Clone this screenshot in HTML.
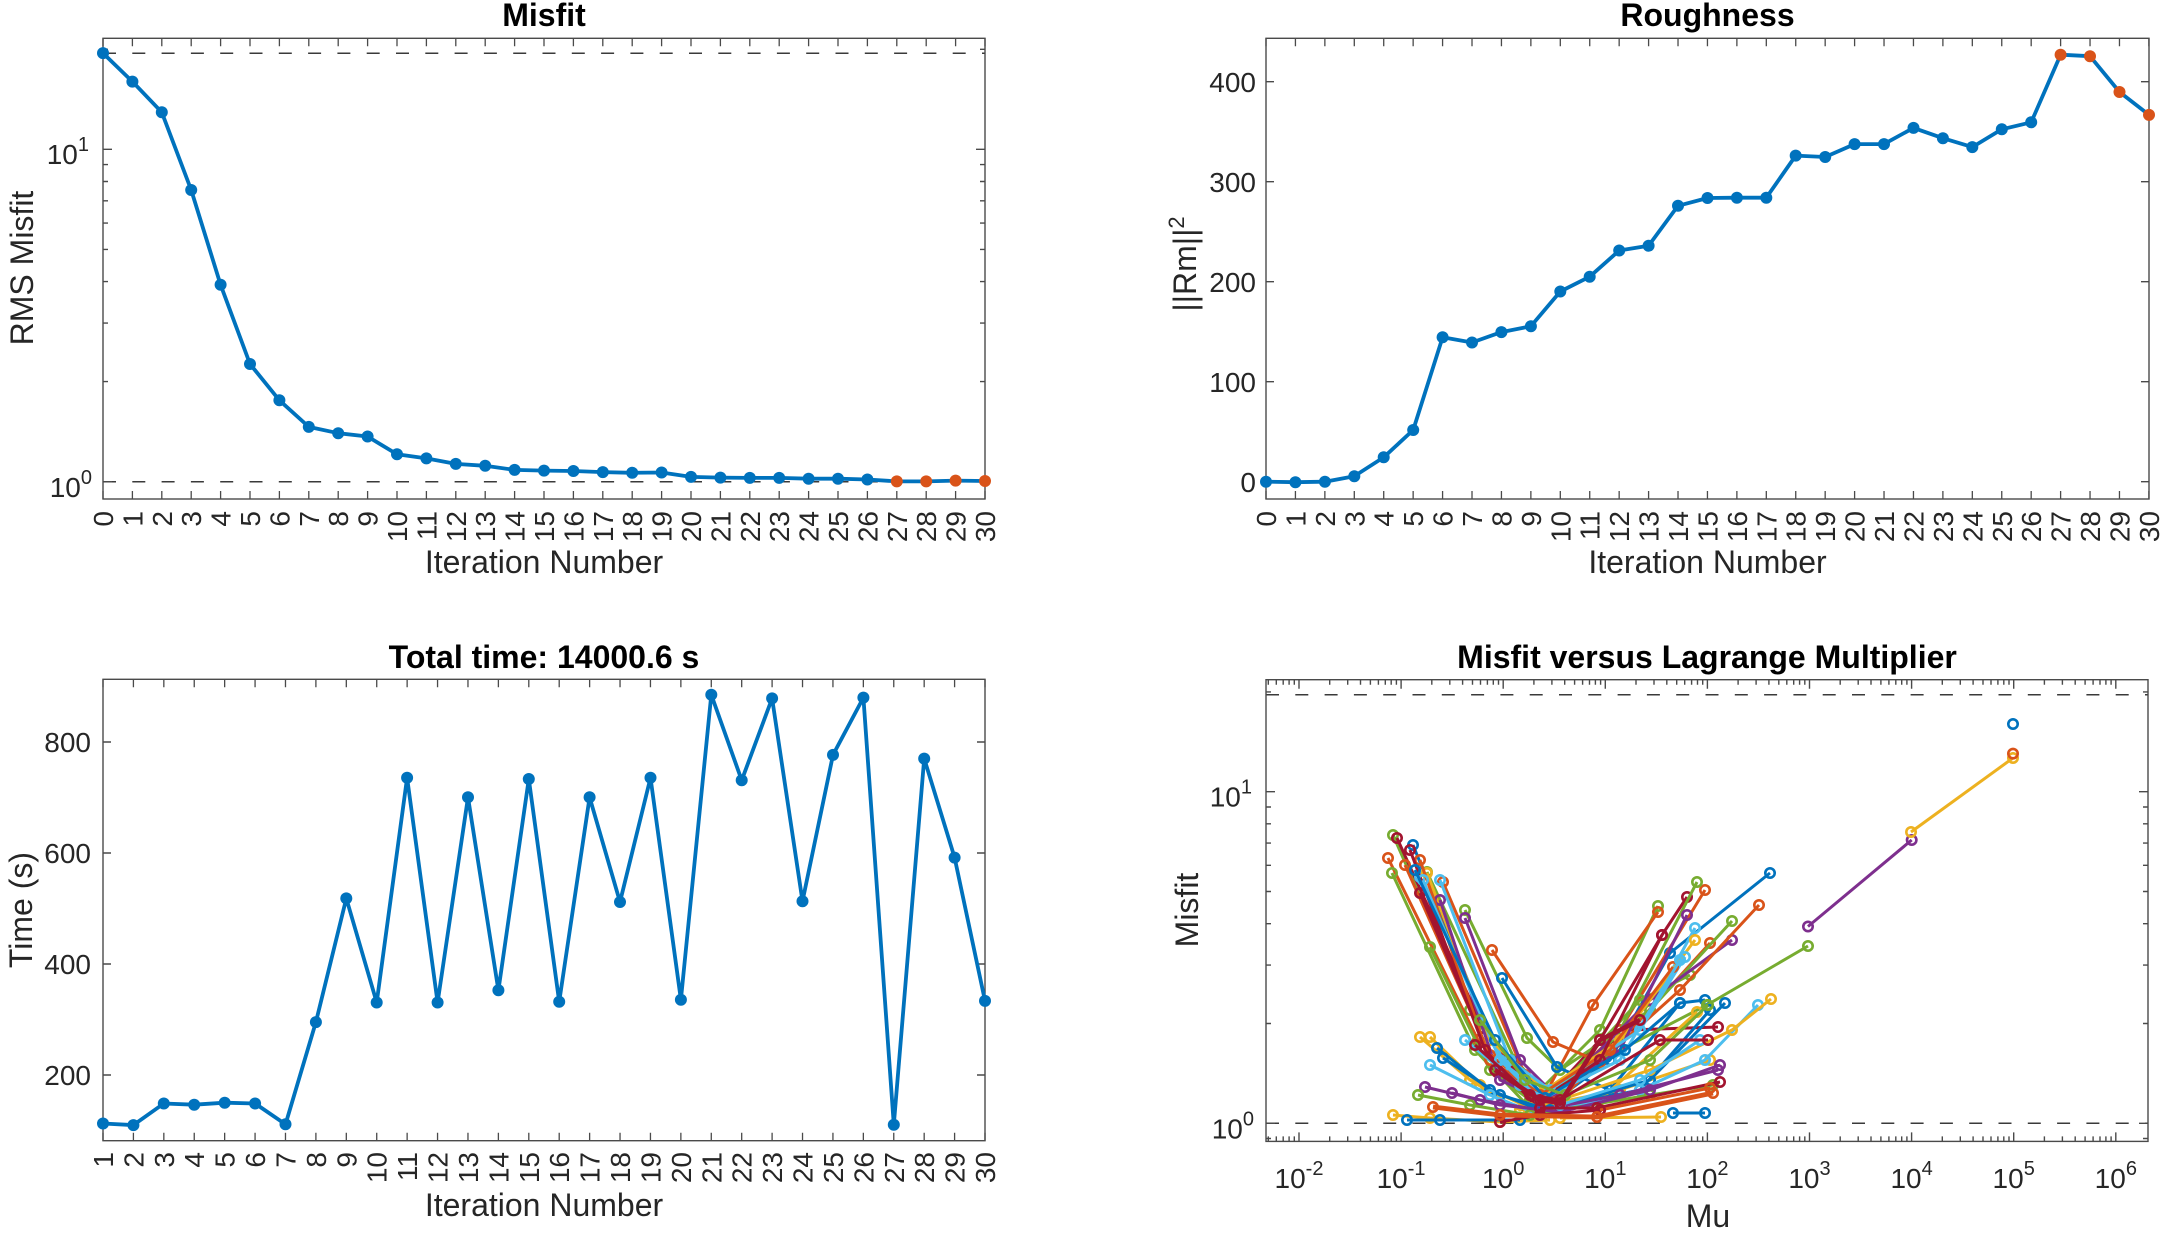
<!DOCTYPE html>
<html><head><meta charset="utf-8"><style>
html,body{margin:0;padding:0;background:#fff;}
svg{display:block;}
.tk{font:28px "Liberation Sans",sans-serif;fill:#262626;}
.al{font:32px "Liberation Sans",sans-serif;fill:#262626;}
.ti{font:bold 32px "Liberation Sans",sans-serif;fill:#000;}
.ax{fill:none;stroke:#4a4a4a;stroke-width:1.4;}
.dash{stroke:#3a3a3a;stroke-width:1.5;stroke-dasharray:13 16.3;fill:none;}
.ser{fill:none;stroke:#0072BD;stroke-width:3.8;stroke-linejoin:round;}
.sp{fill:none;stroke-width:3;stroke-linejoin:round;}
.B{stroke:#0072BD;marker-start:url(#mB);marker-mid:url(#mB);marker-end:url(#mB);}
.O{stroke:#D95319;marker-start:url(#mO);marker-mid:url(#mO);marker-end:url(#mO);}
.Y{stroke:#EDB120;marker-start:url(#mY);marker-mid:url(#mY);marker-end:url(#mY);}
.P{stroke:#7E2F8E;marker-start:url(#mP);marker-mid:url(#mP);marker-end:url(#mP);}
.G{stroke:#77AC30;marker-start:url(#mG);marker-mid:url(#mG);marker-end:url(#mG);}
.C{stroke:#4DBEEE;marker-start:url(#mC);marker-mid:url(#mC);marker-end:url(#mC);}
.R{stroke:#A2142F;marker-start:url(#mR);marker-mid:url(#mR);marker-end:url(#mR);}
</style></head><body>
<svg width="2167" height="1236" viewBox="0 0 2167 1236" xmlns="http://www.w3.org/2000/svg">
<defs>
<marker id="fb" markerUnits="userSpaceOnUse" markerWidth="14" markerHeight="14" refX="7" refY="7" overflow="visible"><circle cx="7" cy="7" r="6" fill="#0072BD"/></marker>
<marker id="mB" markerUnits="userSpaceOnUse" markerWidth="12" markerHeight="12" refX="6" refY="6" overflow="visible"><circle cx="6" cy="6" r="4.7" fill="none" stroke="#0072BD" stroke-width="2.6"/></marker>
<marker id="mO" markerUnits="userSpaceOnUse" markerWidth="12" markerHeight="12" refX="6" refY="6" overflow="visible"><circle cx="6" cy="6" r="4.7" fill="none" stroke="#D95319" stroke-width="2.6"/></marker>
<marker id="mY" markerUnits="userSpaceOnUse" markerWidth="12" markerHeight="12" refX="6" refY="6" overflow="visible"><circle cx="6" cy="6" r="4.7" fill="none" stroke="#EDB120" stroke-width="2.6"/></marker>
<marker id="mP" markerUnits="userSpaceOnUse" markerWidth="12" markerHeight="12" refX="6" refY="6" overflow="visible"><circle cx="6" cy="6" r="4.7" fill="none" stroke="#7E2F8E" stroke-width="2.6"/></marker>
<marker id="mG" markerUnits="userSpaceOnUse" markerWidth="12" markerHeight="12" refX="6" refY="6" overflow="visible"><circle cx="6" cy="6" r="4.7" fill="none" stroke="#77AC30" stroke-width="2.6"/></marker>
<marker id="mC" markerUnits="userSpaceOnUse" markerWidth="12" markerHeight="12" refX="6" refY="6" overflow="visible"><circle cx="6" cy="6" r="4.7" fill="none" stroke="#4DBEEE" stroke-width="2.6"/></marker>
<marker id="mR" markerUnits="userSpaceOnUse" markerWidth="12" markerHeight="12" refX="6" refY="6" overflow="visible"><circle cx="6" cy="6" r="4.7" fill="none" stroke="#A2142F" stroke-width="2.6"/></marker>
</defs>
<rect width="2167" height="1236" fill="#fff"/>

<!-- ============ TOP-LEFT: Misfit ============ -->
<text class="ti" x="544" y="26" text-anchor="middle">Misfit</text>
<line class="dash" x1="103" y1="53.3" x2="985" y2="53.3"/>
<line class="dash" x1="103" y1="481.7" x2="985" y2="481.7"/>
<rect class="ax" x="103" y="38.3" width="882" height="460.7"/>
<line x1="102.35" y1="495" x2="986" y2="495" stroke="#4a4a4a" stroke-width="8" stroke-dasharray="1.3 28.1"/>
<line x1="102.35" y1="42.3" x2="986" y2="42.3" stroke="#4a4a4a" stroke-width="8" stroke-dasharray="1.3 28.1"/>
<path class="ax" d="M103 481.7h9M103 149.3h9M985 481.7h-9M985 149.3h-9
M103 381.6h5M103 323.1h5M103 281.6h5M103 249.4h5M103 223.1h5M103 200.8h5M103 181.5h5M103 164.6h5M103 49.3h5
M985 381.6h-5M985 323.1h-5M985 281.6h-5M985 249.4h-5M985 223.1h-5M985 200.8h-5M985 181.5h-5M985 164.6h-5M985 49.3h-5"/>
<text class="tk" x="89" y="164" text-anchor="end">10<tspan dy="-13" font-size="20">1</tspan></text>
<text class="tk" x="92" y="497" text-anchor="end">10<tspan dy="-13" font-size="20">0</tspan></text>
<text class="al" transform="translate(33,268) rotate(-90)" text-anchor="middle">RMS Misfit</text>
<text class="al" x="544" y="573" text-anchor="middle">Iteration Number</text>
<g class="tk" text-anchor="end">
<text transform="translate(113,511) rotate(-90)">0</text>
<text transform="translate(142.4,511) rotate(-90)">1</text>
<text transform="translate(171.8,511) rotate(-90)">2</text>
<text transform="translate(201.2,511) rotate(-90)">3</text>
<text transform="translate(230.6,511) rotate(-90)">4</text>
<text transform="translate(260,511) rotate(-90)">5</text>
<text transform="translate(289.4,511) rotate(-90)">6</text>
<text transform="translate(318.8,511) rotate(-90)">7</text>
<text transform="translate(348.2,511) rotate(-90)">8</text>
<text transform="translate(377.6,511) rotate(-90)">9</text>
<text transform="translate(407,511) rotate(-90)">10</text>
<text transform="translate(436.4,511) rotate(-90)">11</text>
<text transform="translate(465.8,511) rotate(-90)">12</text>
<text transform="translate(495.2,511) rotate(-90)">13</text>
<text transform="translate(524.6,511) rotate(-90)">14</text>
<text transform="translate(554,511) rotate(-90)">15</text>
<text transform="translate(583.4,511) rotate(-90)">16</text>
<text transform="translate(612.8,511) rotate(-90)">17</text>
<text transform="translate(642.2,511) rotate(-90)">18</text>
<text transform="translate(671.6,511) rotate(-90)">19</text>
<text transform="translate(701,511) rotate(-90)">20</text>
<text transform="translate(730.4,511) rotate(-90)">21</text>
<text transform="translate(759.8,511) rotate(-90)">22</text>
<text transform="translate(789.2,511) rotate(-90)">23</text>
<text transform="translate(818.6,511) rotate(-90)">24</text>
<text transform="translate(848,511) rotate(-90)">25</text>
<text transform="translate(877.4,511) rotate(-90)">26</text>
<text transform="translate(906.8,511) rotate(-90)">27</text>
<text transform="translate(936.2,511) rotate(-90)">28</text>
<text transform="translate(965.6,511) rotate(-90)">29</text>
<text transform="translate(995,511) rotate(-90)">30</text>
</g>
<polyline class="ser" points="867.4,479.5 896.8,481.4 926.2,481.4 955.6,480.6 985,481"/>
<polyline class="ser" marker-start="url(#fb)" marker-mid="url(#fb)" marker-end="url(#fb)" points="103,53.1 132.4,81.6 161.8,112.3 191.2,190 220.6,284.8 250,364 279.4,400.3 308.8,426.9 338.2,433.2 367.6,436.5 397,454.3 426.4,458.4 455.8,463.9 485.2,465.8 514.6,469.9 544,470.6 573.4,471 602.8,472.1 632.2,472.8 661.6,472.5 691,476.9 720.4,477.6 749.8,477.9 779.2,477.9 808.6,478.7 838,478.7 867.4,479.5"/>
<g fill="#D95319"><circle cx="896.8" cy="481.4" r="6"/><circle cx="926.2" cy="481.4" r="6"/><circle cx="955.6" cy="480.6" r="6"/><circle cx="985" cy="481" r="6"/></g>

<!-- ============ TOP-RIGHT: Roughness ============ -->
<text class="ti" x="1707.5" y="26" text-anchor="middle">Roughness</text>
<rect class="ax" x="1266" y="38.3" width="883" height="460.7"/>
<line x1="1265.35" y1="495" x2="2150" y2="495" stroke="#4a4a4a" stroke-width="8" stroke-dasharray="1.3 28.13"/>
<line x1="1265.35" y1="42.3" x2="2150" y2="42.3" stroke="#4a4a4a" stroke-width="8" stroke-dasharray="1.3 28.13"/>
<path class="ax" d="M1266 481.7h8M1266 381.7h8M1266 281.7h8M1266 181.7h8M1266 81.7h8M2149 481.7h-8M2149 381.7h-8M2149 281.7h-8M2149 181.7h-8M2149 81.7h-8"/>
<g class="tk" text-anchor="end">
<text x="1256" y="492.2">0</text>
<text x="1256" y="392.2">100</text>
<text x="1256" y="292.2">200</text>
<text x="1256" y="192.2">300</text>
<text x="1256" y="92.2">400</text>
</g>
<text class="al" transform="translate(1196,264) rotate(-90)" text-anchor="middle">||Rm||<tspan dy="-12" font-size="22">2</tspan></text>
<text class="al" x="1707.5" y="573" text-anchor="middle">Iteration Number</text>
<g class="tk" text-anchor="end">
<text transform="translate(1276,511) rotate(-90)">0</text>
<text transform="translate(1305.4,511) rotate(-90)">1</text>
<text transform="translate(1334.9,511) rotate(-90)">2</text>
<text transform="translate(1364.3,511) rotate(-90)">3</text>
<text transform="translate(1393.7,511) rotate(-90)">4</text>
<text transform="translate(1423.2,511) rotate(-90)">5</text>
<text transform="translate(1452.6,511) rotate(-90)">6</text>
<text transform="translate(1482,511) rotate(-90)">7</text>
<text transform="translate(1511.4,511) rotate(-90)">8</text>
<text transform="translate(1540.9,511) rotate(-90)">9</text>
<text transform="translate(1570.3,511) rotate(-90)">10</text>
<text transform="translate(1599.7,511) rotate(-90)">11</text>
<text transform="translate(1629.2,511) rotate(-90)">12</text>
<text transform="translate(1658.6,511) rotate(-90)">13</text>
<text transform="translate(1688,511) rotate(-90)">14</text>
<text transform="translate(1717.5,511) rotate(-90)">15</text>
<text transform="translate(1746.9,511) rotate(-90)">16</text>
<text transform="translate(1776.3,511) rotate(-90)">17</text>
<text transform="translate(1805.7,511) rotate(-90)">18</text>
<text transform="translate(1835.2,511) rotate(-90)">19</text>
<text transform="translate(1864.6,511) rotate(-90)">20</text>
<text transform="translate(1894,511) rotate(-90)">21</text>
<text transform="translate(1923.5,511) rotate(-90)">22</text>
<text transform="translate(1952.9,511) rotate(-90)">23</text>
<text transform="translate(1982.3,511) rotate(-90)">24</text>
<text transform="translate(2011.8,511) rotate(-90)">25</text>
<text transform="translate(2041.2,511) rotate(-90)">26</text>
<text transform="translate(2070.6,511) rotate(-90)">27</text>
<text transform="translate(2100,511) rotate(-90)">28</text>
<text transform="translate(2129.5,511) rotate(-90)">29</text>
<text transform="translate(2159,511) rotate(-90)">30</text>
</g>
<polyline class="ser" points="2031.2,122.3 2060.6,54.7 2090,56.2 2119.5,92 2149,114.9"/>
<polyline class="ser" marker-start="url(#fb)" marker-mid="url(#fb)" marker-end="url(#fb)" points="1266,481.7 1295.4,482.2 1324.9,481.7 1354.3,476.2 1383.7,457.3 1413.2,430 1442.6,337.3 1472,342.5 1501.4,332.1 1530.9,326.2 1560.3,291.5 1589.7,276.7 1619.2,250.5 1648.6,245.7 1678,205.8 1707.5,198 1736.9,197.7 1766.3,197.7 1795.7,155.6 1825.2,157 1854.6,144.1 1884,144.1 1913.5,127.9 1942.9,138.2 1972.3,147.1 2001.8,129.3 2031.2,122.3"/>
<g fill="#D95319"><circle cx="2060.6" cy="54.7" r="6"/><circle cx="2090" cy="56.2" r="6"/><circle cx="2119.5" cy="92" r="6"/><circle cx="2149" cy="114.9" r="6"/></g>

<!-- ============ BOTTOM-LEFT: Time ============ -->
<text class="ti" x="544" y="668" text-anchor="middle">Total time: 14000.6 s</text>
<rect class="ax" x="103" y="679.3" width="882" height="461.4"/>
<line x1="102.35" y1="1136.7" x2="986" y2="1136.7" stroke="#4a4a4a" stroke-width="8" stroke-dasharray="1.3 29.114"/>
<line x1="102.35" y1="683.3" x2="986" y2="683.3" stroke="#4a4a4a" stroke-width="8" stroke-dasharray="1.3 29.114"/>
<path class="ax" d="M103 1075h8M103 964h8M103 853h8M103 742h8M985 1075h-8M985 964h-8M985 853h-8M985 742h-8"/>
<g class="tk" text-anchor="end">
<text x="91" y="1085">200</text>
<text x="91" y="974">400</text>
<text x="91" y="863">600</text>
<text x="91" y="752">800</text>
</g>
<text class="al" transform="translate(32,910) rotate(-90)" text-anchor="middle">Time (s)</text>
<text class="al" x="544" y="1216" text-anchor="middle">Iteration Number</text>
<g class="tk" text-anchor="end">
<text transform="translate(113,1152) rotate(-90)">1</text>
<text transform="translate(143.4,1152) rotate(-90)">2</text>
<text transform="translate(173.8,1152) rotate(-90)">3</text>
<text transform="translate(204.2,1152) rotate(-90)">4</text>
<text transform="translate(234.7,1152) rotate(-90)">5</text>
<text transform="translate(265.1,1152) rotate(-90)">6</text>
<text transform="translate(295.5,1152) rotate(-90)">7</text>
<text transform="translate(325.9,1152) rotate(-90)">8</text>
<text transform="translate(356.3,1152) rotate(-90)">9</text>
<text transform="translate(386.7,1152) rotate(-90)">10</text>
<text transform="translate(417.1,1152) rotate(-90)">11</text>
<text transform="translate(447.6,1152) rotate(-90)">12</text>
<text transform="translate(478,1152) rotate(-90)">13</text>
<text transform="translate(508.4,1152) rotate(-90)">14</text>
<text transform="translate(538.8,1152) rotate(-90)">15</text>
<text transform="translate(569.2,1152) rotate(-90)">16</text>
<text transform="translate(599.6,1152) rotate(-90)">17</text>
<text transform="translate(630,1152) rotate(-90)">18</text>
<text transform="translate(660.5,1152) rotate(-90)">19</text>
<text transform="translate(690.9,1152) rotate(-90)">20</text>
<text transform="translate(721.3,1152) rotate(-90)">21</text>
<text transform="translate(751.7,1152) rotate(-90)">22</text>
<text transform="translate(782.1,1152) rotate(-90)">23</text>
<text transform="translate(812.5,1152) rotate(-90)">24</text>
<text transform="translate(843,1152) rotate(-90)">25</text>
<text transform="translate(873.4,1152) rotate(-90)">26</text>
<text transform="translate(903.8,1152) rotate(-90)">27</text>
<text transform="translate(934.2,1152) rotate(-90)">28</text>
<text transform="translate(964.6,1152) rotate(-90)">29</text>
<text transform="translate(995,1152) rotate(-90)">30</text>
</g>
<polyline class="ser" marker-start="url(#fb)" marker-mid="url(#fb)" marker-end="url(#fb)" points="103,1123.5 133.4,1125.1 163.8,1103.5 194.2,1104.7 224.7,1102.7 255.1,1103.5 285.5,1124.3 315.9,1022.1 346.3,898.4 376.7,1002.5 407.1,777.8 437.6,1002.5 468,797.3 498.4,990.3 528.8,779 559.2,1001.7 589.6,797.3 620,902 650.5,777.8 680.9,999.7 711.3,694.7 741.7,780.3 772.1,698.4 802.5,901.2 833,754.9 863.4,697.6 893.8,1124.7 924.2,758.6 954.6,857.6 985,1000.9"/>

<!-- ============ BOTTOM-RIGHT: Misfit vs Mu ============ -->
<text class="ti" x="1707" y="668" text-anchor="middle">Misfit versus Lagrange Multiplier</text>
<line class="dash" x1="1266" y1="694.7" x2="2148" y2="694.7"/>
<line class="dash" x1="1266" y1="1123.3" x2="2148" y2="1123.3"/>
<rect class="ax" x="1266" y="679.7" width="882" height="461.7"/>
<path class="ax" d="M1299 1141.4v-9M1401.1 1141.4v-9M1503.2 1141.4v-9M1605.3 1141.4v-9M1707.4 1141.4v-9M1809.5 1141.4v-9M1911.6 1141.4v-9M2013.7 1141.4v-9M2115.8 1141.4v-9
M1299 679.7v9M1401.1 679.7v9M1503.2 679.7v9M1605.3 679.7v9M1707.4 679.7v9M1809.5 679.7v9M1911.6 679.7v9M2013.7 679.7v9M2115.8 679.7v9
M1268.3 1141.4v-5M1276.3 1141.4v-5M1283.2 1141.4v-5M1289.1 1141.4v-5M1294.3 1141.4v-5
M1329.7 1141.4v-5M1347.7 1141.4v-5M1360.5 1141.4v-5M1370.4 1141.4v-5M1378.4 1141.4v-5M1385.3 1141.4v-5M1391.2 1141.4v-5M1396.4 1141.4v-5
M1431.8 1141.4v-5M1449.8 1141.4v-5M1462.6 1141.4v-5M1472.5 1141.4v-5M1480.5 1141.4v-5M1487.4 1141.4v-5M1493.3 1141.4v-5M1498.5 1141.4v-5
M1533.9 1141.4v-5M1551.9 1141.4v-5M1564.7 1141.4v-5M1574.6 1141.4v-5M1582.6 1141.4v-5M1589.5 1141.4v-5M1595.4 1141.4v-5M1600.6 1141.4v-5
M1636 1141.4v-5M1654 1141.4v-5M1666.8 1141.4v-5M1676.7 1141.4v-5M1684.7 1141.4v-5M1691.6 1141.4v-5M1697.5 1141.4v-5M1702.7 1141.4v-5
M1738.1 1141.4v-5M1756.1 1141.4v-5M1768.9 1141.4v-5M1778.8 1141.4v-5M1786.8 1141.4v-5M1793.7 1141.4v-5M1799.6 1141.4v-5M1804.8 1141.4v-5
M1840.2 1141.4v-5M1858.2 1141.4v-5M1871 1141.4v-5M1880.9 1141.4v-5M1888.9 1141.4v-5M1895.8 1141.4v-5M1901.7 1141.4v-5M1906.9 1141.4v-5
M1942.3 1141.4v-5M1960.3 1141.4v-5M1973.1 1141.4v-5M1983 1141.4v-5M1991 1141.4v-5M1997.9 1141.4v-5M2003.8 1141.4v-5M2009 1141.4v-5
M2044.4 1141.4v-5M2062.4 1141.4v-5M2075.2 1141.4v-5M2085.1 1141.4v-5M2093.1 1141.4v-5M2100 1141.4v-5M2105.9 1141.4v-5M2111.1 1141.4v-5
M1268.3 679.7v5M1276.3 679.7v5M1283.2 679.7v5M1289.1 679.7v5M1294.3 679.7v5
M1329.7 679.7v5M1347.7 679.7v5M1360.5 679.7v5M1370.4 679.7v5M1378.4 679.7v5M1385.3 679.7v5M1391.2 679.7v5M1396.4 679.7v5
M1431.8 679.7v5M1449.8 679.7v5M1462.6 679.7v5M1472.5 679.7v5M1480.5 679.7v5M1487.4 679.7v5M1493.3 679.7v5M1498.5 679.7v5
M1533.9 679.7v5M1551.9 679.7v5M1564.7 679.7v5M1574.6 679.7v5M1582.6 679.7v5M1589.5 679.7v5M1595.4 679.7v5M1600.6 679.7v5
M1636 679.7v5M1654 679.7v5M1666.8 679.7v5M1676.7 679.7v5M1684.7 679.7v5M1691.6 679.7v5M1697.5 679.7v5M1702.7 679.7v5
M1738.1 679.7v5M1756.1 679.7v5M1768.9 679.7v5M1778.8 679.7v5M1786.8 679.7v5M1793.7 679.7v5M1799.6 679.7v5M1804.8 679.7v5
M1840.2 679.7v5M1858.2 679.7v5M1871 679.7v5M1880.9 679.7v5M1888.9 679.7v5M1895.8 679.7v5M1901.7 679.7v5M1906.9 679.7v5
M1942.3 679.7v5M1960.3 679.7v5M1973.1 679.7v5M1983 679.7v5M1991 679.7v5M1997.9 679.7v5M2003.8 679.7v5M2009 679.7v5
M2044.4 679.7v5M2062.4 679.7v5M2075.2 679.7v5M2085.1 679.7v5M2093.1 679.7v5M2100 679.7v5M2105.9 679.7v5M2111.1 679.7v5
M1266 1123.3h9M1266 791.7h9M2148 1123.3h-9M2148 791.7h-9
M1266 1138.5h5M1266 1023.5h5M1266 965.1h5M1266 923.7h5M1266 891.5h5M1266 865.3h5M1266 843.1h5M1266 823.8h5M1266 807h5M1266 691.9h5
M2148 1138.5h-5M2148 1023.5h-5M2148 965.1h-5M2148 923.7h-5M2148 891.5h-5M2148 865.3h-5M2148 843.1h-5M2148 823.8h-5M2148 807h-5M2148 691.9h-5"/>
<text class="tk" x="1252" y="806.6" text-anchor="end">10<tspan dy="-13" font-size="20">1</tspan></text>
<text class="tk" x="1254" y="1138.5" text-anchor="end">10<tspan dy="-13" font-size="20">0</tspan></text>
<g class="tk" text-anchor="middle">
<text x="1299" y="1188">10<tspan dy="-13" font-size="20">-2</tspan></text>
<text x="1401.1" y="1188">10<tspan dy="-13" font-size="20">-1</tspan></text>
<text x="1503.2" y="1188">10<tspan dy="-13" font-size="20">0</tspan></text>
<text x="1605.3" y="1188">10<tspan dy="-13" font-size="20">1</tspan></text>
<text x="1707.4" y="1188">10<tspan dy="-13" font-size="20">2</tspan></text>
<text x="1809.5" y="1188">10<tspan dy="-13" font-size="20">3</tspan></text>
<text x="1911.6" y="1188">10<tspan dy="-13" font-size="20">4</tspan></text>
<text x="2013.7" y="1188">10<tspan dy="-13" font-size="20">5</tspan></text>
<text x="2115.8" y="1188">10<tspan dy="-13" font-size="20">6</tspan></text>
</g>
<text class="al" transform="translate(1198,910) rotate(-90)" text-anchor="middle">Misfit</text>
<text class="al" x="1708" y="1227" text-anchor="middle">Mu</text>

<g class="sp">
<polyline class="G" points="1393,835 1470,1010 1530,1100 1600,1030 1658,906"/>
<polyline class="R" points="1397,838 1483,1028 1540,1105 1600,1040 1662,935 1687,897"/>
<polyline class="B" points="1413,845 1500,1060 1545,1108 1610,1060 1670,953 1770,873"/>
<polyline class="O" points="1388,858 1478,1040 1537,1110 1593,1005 1658,912"/>
<polyline class="O" points="1405,865 1490,1055 1548,1100 1620,1030 1705,890"/>
<polyline class="G" points="1392,873 1475,1050 1527,1105 1615,1040 1697,882"/>
<polyline class="G" points="1427,872 1515,1060 1550,1097 1640,1000 1690,975"/>
<polyline class="C" points="1420,877 1505,1065 1553,1100 1650,1010 1695,928"/>
<polyline class="R" points="1420,893 1497,1072 1540,1103 1630,1030 1718,1027"/>
<polyline class="O" points="1443,882 1525,1075 1560,1100 1640,1020 1710,943"/>
<polyline class="G" points="1465,910 1527,1038 1560,1070 1650,1010 1732,921"/>
<polyline class="P" points="1465,918 1520,1060 1555,1095 1650,1000 1732,940"/>
<polyline class="O" points="1492,950 1553,1042 1600,1062 1680,990 1759,905"/>
<polyline class="B" points="1502,978 1557,1067 1610,1090 1680,1003 1705,1000"/>
<polyline class="G" points="1430,947 1490,1070 1530,1100 1620,1050 1707,1005 1808,946"/>
<polyline class="Y" points="1427,873 1490,1040 1545,1090 1620,1040 1695,940"/>
<polyline class="P" points="1440,900 1500,1080 1545,1100 1620,1050 1687,915"/>
<polyline class="C" points="1440,880 1510,1060 1550,1090 1640,1030 1685,957"/>
<polyline class="O" points="1420,860 1490,1060 1540,1095 1610,1050 1673,967"/>
<polyline class="R" points="1410,850 1485,1050 1535,1105 1600,1060 1662,935"/>
<polyline class="C" points="1423,880 1500,1060 1540,1100 1620,1060 1680,960"/>
<polyline class="B" points="1415,870 1495,1040 1545,1098 1625,1050 1680,1003"/>
<polyline class="Y" points="1393,1115 1430,1118 1500,1122 1550,1120"/>
<polyline class="B" points="1407,1120 1440,1120 1520,1120"/>
<polyline class="Y" points="1420,1037 1470,1080 1520,1110 1600,1100 1697,1012"/>
<polyline class="Y" points="1430,1037 1480,1085 1530,1108 1620,1090 1710,1060"/>
<polyline class="B" points="1437,1048 1490,1090 1540,1110 1640,1090 1710,1010"/>
<polyline class="B" points="1443,1058 1500,1095 1550,1110 1650,1080 1725,1003"/>
<polyline class="C" points="1430,1065 1490,1095 1540,1115 1640,1090 1705,1060 1758,1005"/>
<polyline class="Y" points="1560,1100 1650,1070 1732,1030 1771,999"/>
<polyline class="P" points="1425,1087 1480,1100 1540,1110 1620,1095 1718,1070"/>
<polyline class="G" points="1418,1095 1470,1105 1530,1115 1650,1095 1713,1085"/>
<polyline class="P" points="1452,1093 1500,1105 1560,1112 1650,1090 1720,1065"/>
<polyline class="C" points="1465,1040 1520,1085 1560,1105 1640,1080 1700,1040"/>
<polyline class="G" points="1480,1020 1525,1080 1565,1095 1650,1060 1708,1005"/>
<polyline class="R" points="1475,1045 1530,1095 1560,1100 1660,1040 1708,1040"/>
<polyline class="R" points="1540,1108 1597,1108 1720,1082"/>
<polyline class="O" points="1600,1110 1710,1088"/>
<polyline class="B" points="1673,1113 1705,1113"/>
<polyline class="Y" points="1560,1118 1661,1117"/>
<polyline class="R" points="1500,1122 1540,1115 1600,1110"/>
<polyline class="O" style="stroke-width:4.8" points="1433,1107 1500,1115 1597,1117 1713,1093"/>
<polyline class="R" style="stroke-width:4.5" points="1495,1070 1540,1100 1560,1103 1600,1040 1640,1020"/>
<polyline class="P" points="1808,926.5 1911.7,840"/>
<polyline class="Y" points="1911,832 2013,758"/>
</g>
<circle cx="2013" cy="753.6" r="4.7" fill="none" stroke="#D95319" stroke-width="2.6"/>
<circle cx="2013" cy="724" r="4.7" fill="none" stroke="#0072BD" stroke-width="2.6"/>
</svg>
</body></html>
